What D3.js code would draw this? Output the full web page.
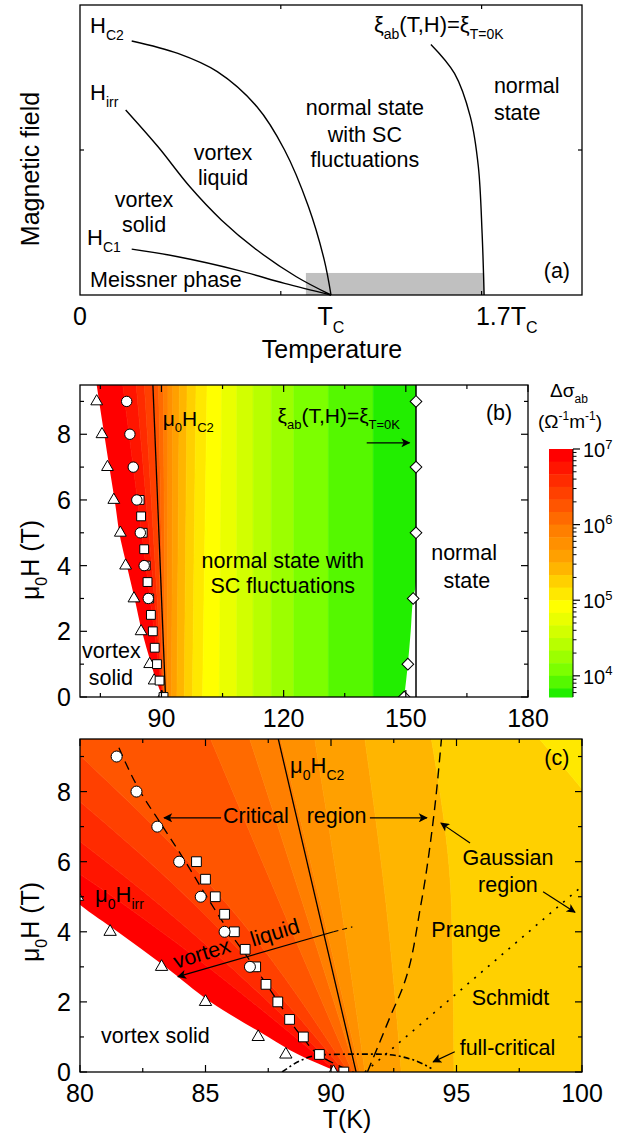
<!DOCTYPE html>
<html>
<head>
<meta charset="utf-8">
<script src="https://cdn.jsdelivr.net/npm/d3@7/dist/d3.min.js"></script>
<style>
  body { margin: 0; background: #fff; }
  svg text { font-family: "Liberation Sans", Arial, Helvetica, sans-serif; fill: #000; }
</style>
</head>
<body>
<svg id="chart" width="618" height="1140"></svg>
<script>
// ---------- values ----------

// (a) schematic: T in units of Tc, field in arbitrary units
var hc2SchemT = [0.206, 0.390, 0.547, 0.705, 0.815, 0.910, 0.973, 1.0];
var hc2SchemH = [8.76, 8.33, 7.70, 6.49, 5.00, 3.05, 1.21, 0];
var hirrSchemT = [0.182, 0.311, 0.437, 0.563, 0.705, 0.862, 1.0];
var hirrSchemH = [6.38, 5.11, 3.74, 2.59, 1.55, 0.63, 0];
var hc1SchemT = [0.206, 0.390, 0.626, 0.815, 1.0];
var hc1SchemH = [1.58, 1.32, 0.86, 0.40, 0];
var xiSchemT = [1.398, 1.492, 1.555, 1.587, 1.602, 1.610];
var xiSchemH = [8.64, 7.64, 6.15, 4.43, 2.13, 0];
var fluctT = [0.90, 1.61];
var fluctH = 0.76;
var schemTicks = [0, 1, 1.7];
var schemTickLabels = [[['0']], [['T'], ['C', 'sub']], [['1.7T'], ['C', 'sub']]];

// (b),(c) measured points: T (K), mu0H (T)
var triT = [90.1, 88.2, 87.1, 85.0, 83.25, 81.2, 79.9, 78.3, 76.75, 75.4, 74.1];
var triH = [0, 0.5, 1, 2, 3, 4, 5, 6, 7, 8, 9];
var circT = [81.46, 82.25, 83.08, 83.95, 84.81, 85.76, 86.77];
var circH = [9, 8, 7, 6, 5, 4, 3];
var sqT = [84.64, 85.0, 85.39, 85.76, 86.15, 86.58, 87.0, 87.41, 87.88, 88.35, 88.9, 89.54, 90.51];
var sqH = [6, 5.5, 5, 4.5, 4, 3.5, 3, 2.5, 2, 1.5, 1, 0.5, 0];
var diaT = [152.5, 152.5, 152.5, 151.8, 150.5, 149.6];
var diaH = [9, 7, 5, 3, 1, 0];

// lines
var hc2T = [87.9, 91.0];
var hc2H = [9.5, 0];
var xiLineT = [152.5, 152.5];
var xiLineH = [0, 9.5];
var edgeT = [90.3, 88.7, 87.5, 85.2, 83.4, 81.5, 80.0, 78.5, 77.2, 75.95, 74.7, 74.1];
var edgeH = [0, 0.5, 1, 2, 3, 4, 4.77, 6, 7, 8, 9, 9.5];
var greenEdgeT = [149.6, 150.5, 151.2, 151.8, 152.5, 152.5];
var greenEdgeH = [0, 1, 2, 3, 3.5, 9.5];
var critT = [81.55, 82.4, 83.3, 84.2, 85.05, 85.95, 86.95, 87.9, 88.85, 89.7, 90.9];
var critH = [9.25, 8, 7, 6, 5, 4, 3, 2, 1, 0.4, 0];
var gaussT = [91.45, 91.97, 92.43, 92.82, 93.59, 94.06, 94.4];
var gaussH = [0, 0.9, 1.7, 2.34, 4.81, 7.1, 9.5];
var prangeT = [91.35, 100];
var prangeH = [0, 5.3];
var fullCritT = [88.05, 88.82, 89.61, 90.81, 91.87, 92.80, 93.60, 94.0];
var fullCritH = [0, 0.34, 0.49, 0.51, 0.51, 0.44, 0.25, 0.1];

// conductivity contours: log10(dSigma) levels and the T where each level crosses the knot fields
var bandKnotsB = [0, 9.5];
var levelsB = [6.833, 6.667, 6.5, 6.333, 6.167, 6.0, 5.833, 5.667, 5.5, 5.333, 5.167, 5.0, 4.833, 4.667, 4.5, 4.333, 4.167, 4.0, 3.833];
var levelT0B = [90.3, 90.35, 90.4, 90.45, 90.6, 90.9, 91.5, 92.5, 93.8, 95.6, 97.6, 100.1, 104.2, 108.5, 112.5, 117, 122.5, 131, 142];
var levelT1B = [80.5, 83.8, 85.8, 88.0, 89.3, 90.5, 91.6, 92.8, 94.4, 96.3, 98.5, 101.2, 104.8, 108.5, 112.5, 117, 122.5, 131, 142];

var bandKnotsC = [0, 4.75, 9.5];
var levelsC = [6.833, 6.667, 6.5, 6.333, 6.167, 6.0, 5.833, 5.667, 5.5, 5.333, 5.167];
var levelT0C = [90.25, 90.4, 90.55, 90.7, 90.85, 91.0, 91.15, 91.35, 92.8, 94.9, 103];
var levelTmC = [81.8, 83.2, 84.6, 85.9, 88.0, 88.9, 89.6, 90.4, 92.2, 94.8, 102.5];
var levelT1C = [71.5, 74.5, 77.0, 79.3, 85.2, 86.76, 88.0, 89.35, 91.35, 94.0, 98.3];

// colour scale
var cbBands = [7, 6.833, 6.667, 6.5, 6.333, 6.167, 6.0, 5.833, 5.667, 5.5, 5.333, 5.167, 5.0, 4.833, 4.667, 4.5, 4.333, 4.167, 4.0, 3.833, 3.72];
var bandColors = ['#ff0000', '#ff1500', '#ff2b00', '#ff4000', '#ff5500', '#ff6a00', '#ff7f00', '#ff9000', '#ffa000', '#ffb500',
                  '#ffd000', '#ffe800', '#ffff00', '#eaff00', '#d2ff00', '#b8ff00', '#9cff00', '#7cff00', '#55f800', '#22ee00'];
var cbExp = [4, 5, 6, 7];
var cbMinorMult = [2, 3, 4, 5, 6, 7, 8, 9];
var cbDecades = [3, 4, 5, 6];

var bTicksMaj = [90, 120, 150, 180];
var bTicksMin = [75, 105, 135, 165];
var cTicksMaj = [80, 85, 90, 95, 100];
var cTicksMin = [82.5, 87.5, 92.5, 97.5];
var hTicksMaj = [0, 2, 4, 6, 8];
var hTicksMin = [1, 3, 5, 7, 9];

// ---------- helpers ----------
var svg = d3.select('#chart');
var defs = svg.append('defs');
defs.append('marker').attr('id', 'head')
  .attr('viewBox', '0 0 10 10').attr('refX', 9).attr('refY', 5)
  .attr('markerWidth', 11).attr('markerHeight', 9)
  .attr('markerUnits', 'userSpaceOnUse').attr('orient', 'auto')
  .append('path').attr('d', 'M0,0L10,5L0,10L2.5,5Z').attr('fill', '#000');

function pts(ts, hs) {
  return ts.map(function(t, i) { return {t: t, h: hs[i]}; });
}

// text with sub/superscripts: parts = [[str], [str,'sub'], [str,'sup']]
function rich(sel, parts, size) {
  var small = Math.round(size * 0.64);
  var shift = 0;
  parts.forEach(function(p) {
    var want = p[1] === 'sub' ? size * 0.3 : (p[1] === 'sup' ? -size * 0.42 : 0);
    sel.append('tspan')
      .attr('font-size', p[1] ? small : size)
      .attr('dy', want - shift)
      .text(p[0]);
    shift = want;
  });
  return sel;
}

function addLabels(g, x, y, list, size) {
  list.forEach(function(l) {
    var t = g.append('text')
      .attr('x', x(l.t)).attr('y', y(l.h))
      .attr('text-anchor', l.a || 'middle');
    rich(t, l.p, size);
  });
}

function drawTicks(g, x, y, xMaj, xMin, yMaj, yMin) {
  var left = x.range()[0], right = x.range()[1], bottom = y.range()[0], top = y.range()[1];
  var tk = g.append('g').attr('stroke', '#000').attr('stroke-width', 1.2);
  [[xMaj, 7], [xMin, 4]].forEach(function(p) {
    tk.selectAll(null).data(p[0]).join('line')
      .attr('x1', function(d) { return x(d); }).attr('x2', function(d) { return x(d); })
      .attr('y1', bottom).attr('y2', bottom - p[1]);
    tk.selectAll(null).data(p[0]).join('line')
      .attr('x1', function(d) { return x(d); }).attr('x2', function(d) { return x(d); })
      .attr('y1', top).attr('y2', top + p[1]);
  });
  [[yMaj, 7], [yMin, 4]].forEach(function(p) {
    tk.selectAll(null).data(p[0]).join('line')
      .attr('y1', function(d) { return y(d); }).attr('y2', function(d) { return y(d); })
      .attr('x1', left).attr('x2', left + p[1]);
    tk.selectAll(null).data(p[0]).join('line')
      .attr('y1', function(d) { return y(d); }).attr('y2', function(d) { return y(d); })
      .attr('x1', right).attr('x2', right - p[1]);
  });
  g.append('rect')
    .attr('x', left).attr('y', top)
    .attr('width', right - left).attr('height', bottom - top)
    .attr('fill', 'none').attr('stroke', '#000').attr('stroke-width', 1.3);
}

function tickLabels(g, x, y, xVals, yVals) {
  var left = x.range()[0], bottom = y.range()[0];
  g.selectAll(null).data(xVals).join('text')
    .attr('x', function(d) { return x(d); }).attr('y', bottom + 30)
    .attr('text-anchor', 'middle').attr('font-size', 25)
    .text(function(d) { return d; });
  g.selectAll(null).data(yVals).join('text')
    .attr('x', left - 9).attr('y', function(d) { return y(d); })
    .attr('dy', '0.36em')
    .attr('text-anchor', 'end').attr('font-size', 25)
    .text(function(d) { return d; });
}

function bandColor(lo, hi) {
  var j = Math.floor((7 - (lo + hi) / 2) * 6);
  return bandColors[Math.max(0, Math.min(bandColors.length - 1, j))];
}

// filled contour bands between successive level lines
function drawBands(g, x, y, knots, levels, rows) {
  var area = d3.area().curve(d3.curveMonotoneY)
    .y(function(d) { return y(d.h); })
    .x0(function(d) { return x(d.a); })
    .x1(function(d) { return x(d.b); });
  var far = knots.map(function() { return 0; });
  for (var k = 0; k <= levels.length; k++) {
    var l = k === 0 ? far.map(function() { return 40; }) : rows[k - 1];
    var r = k === levels.length ? far.map(function() { return 250; }) : rows[k];
    var hi = k === 0 ? 7 : levels[k - 1];
    var lo = k === levels.length ? levels[k - 1] - 1 / 6 : levels[k];
    var c = bandColor(lo, hi);
    g.append('path')
      .attr('d', area(knots.map(function(h, i) { return {h: h, a: l[i], b: r[i]}; })))
      .attr('fill', c).attr('stroke', c).attr('stroke-width', 0.6);
  }
}

function whiteArea(g, x, y, ts, hs, fromLeft) {
  var area = d3.area().curve(d3.curveMonotoneY)
    .y(function(d) { return y(d.h); })
    .x0(function(d) { return fromLeft ? x(40) : x(d.t); })
    .x1(function(d) { return fromLeft ? x(d.t) : x(250); });
  g.append('path').attr('d', area(pts(ts, hs))).attr('fill', '#fff');
}

function drawMarks(g, x, y, ts, hs, type, size, rot) {
  var sym = d3.symbol().type(type).size(size);
  g.selectAll(null).data(ts).join('path')
    .attr('d', sym)
    .attr('transform', function(d, i) {
      return 'translate(' + x(d) + ',' + y(hs[i]) + ')' + (rot ? ' rotate(' + rot + ')' : '');
    })
    .attr('fill', '#fff').attr('stroke', '#000').attr('stroke-width', 1);
}

function drawLine(g, x, y, ts, hs, dash, width, curve) {
  var line = d3.line().curve(curve || d3.curveLinear)
    .x(function(d) { return x(d.t); }).y(function(d) { return y(d.h); });
  return g.append('path').attr('d', line(pts(ts, hs)))
    .attr('fill', 'none').attr('stroke', '#000')
    .attr('stroke-width', width || 1.3)
    .attr('stroke-dasharray', dash || null);
}

function drawArrow(g, x, y, a) {
  g.append('line')
    .attr('x1', x(a.t0)).attr('y1', y(a.h0)).attr('x2', x(a.t1)).attr('y2', y(a.h1))
    .attr('stroke', '#000').attr('stroke-width', 1.2)
    .attr('marker-end', 'url(#head)');
}

function clipRect(id, x, y) {
  defs.append('clipPath').attr('id', id).append('rect')
    .attr('x', x.range()[0]).attr('y', y.range()[1])
    .attr('width', x.range()[1] - x.range()[0]).attr('height', y.range()[0] - y.range()[1]);
}

// ---------- panel (a) ----------
var xa = d3.scaleLinear().domain([0, 2]).range([80, 582]);
var ya = d3.scaleLinear().domain([0, 10]).range([295, 5]);
var ga = svg.append('g');

ga.append('rect')
  .attr('x', xa(fluctT[0])).attr('y', ya(fluctH))
  .attr('width', xa(fluctT[1]) - xa(fluctT[0])).attr('height', ya(0) - ya(fluctH))
  .attr('fill', '#c0c0c0');

[[hc2SchemT, hc2SchemH], [hirrSchemT, hirrSchemH], [hc1SchemT, hc1SchemH], [xiSchemT, xiSchemH]]
  .forEach(function(c) { drawLine(ga, xa, ya, c[0], c[1], null, 1.4, d3.curveCatmullRom); });

drawTicks(ga, xa, ya, [], [0.8, 1.6], [], [5]);

schemTicks.forEach(function(v, i) {
  var t = ga.append('text').attr('x', xa(v)).attr('y', 325).attr('text-anchor', 'middle');
  rich(t, schemTickLabels[i], 25);
});
ga.append('text').attr('x', 332).attr('y', 358).attr('text-anchor', 'middle')
  .attr('font-size', 25).text('Temperature');
ga.append('text').attr('transform', 'translate(39,169) rotate(-90)')
  .attr('text-anchor', 'middle').attr('font-size', 25).text('Magnetic field');

addLabels(ga, xa, ya, [
  {p: [['H'], ['C2', 'sub']], t: 0.04, h: 9.03, a: 'start'},
  {p: [['H'], ['irr', 'sub']], t: 0.04, h: 6.72, a: 'start'},
  {p: [['H'], ['C1', 'sub']], t: 0.028, h: 1.72, a: 'start'},
  {p: [['ξ'], ['ab', 'sub'], ['(T,H)='], ['ξ'], ['T=0K', 'sub']], t: 1.171, h: 9.07, a: 'start'}
], 22);
addLabels(ga, xa, ya, [
  {p: [['vortex']], t: 0.255, h: 3.03},
  {p: [['solid']], t: 0.255, h: 2.17},
  {p: [['vortex']], t: 0.570, h: 4.66},
  {p: [['liquid']], t: 0.570, h: 3.79},
  {p: [['normal state']], t: 1.135, h: 6.21},
  {p: [['with SC']], t: 1.135, h: 5.28},
  {p: [['fluctuations']], t: 1.135, h: 4.41},
  {p: [['normal']], t: 1.649, h: 6.97, a: 'start'},
  {p: [['state']], t: 1.649, h: 6.03, a: 'start'},
  {p: [['Meissner phase']], t: 0.04, h: 0.28, a: 'start'},
  {p: [['(a)']], t: 1.90, h: 0.59}
], 21.5);

// ---------- panel (b) ----------
var xb = d3.scaleLinear().domain([70, 180]).range([80, 528]);
var yb = d3.scaleLinear().domain([0, 9.5]).range([697, 385]);
clipRect('clipB', xb, yb);
var gb = svg.append('g');
var gbIn = gb.append('g').attr('clip-path', 'url(#clipB)');

drawBands(gbIn, xb, yb, bandKnotsB, levelsB,
  levelsB.map(function(l, i) { return [levelT0B[i], levelT1B[i]]; }));
whiteArea(gbIn, xb, yb, edgeT, edgeH, true);
whiteArea(gbIn, xb, yb, greenEdgeT, greenEdgeH, false);

drawLine(gbIn, xb, yb, hc2T, hc2H, null, 1.3);
drawLine(gbIn, xb, yb, xiLineT, xiLineH, null, 1.5);
drawArrow(gbIn, xb, yb, {t0: 140.4, h0: 7.74, t1: 150.9, h1: 7.74});

drawMarks(gbIn, xb, yb, triT, triH, d3.symbolTriangle, 60);
drawMarks(gbIn, xb, yb, sqT, sqH, d3.symbolSquare, 78);
drawMarks(gbIn, xb, yb, circT, circH, d3.symbolCircle, 85);
drawMarks(gbIn, xb, yb, diaT, diaH, d3.symbolSquare, 68, 45);

addLabels(gb, xb, yb, [
  {p: [['μ'], ['0', 'sub'], ['H'], ['C2', 'sub']], t: 90.3, h: 8.25, a: 'start'},
  {p: [['ξ'], ['ab', 'sub'], ['(T,H)='], ['ξ'], ['T=0K', 'sub']], t: 118.5, h: 8.34, a: 'start'}
], 21);
addLabels(gb, xb, yb, [
  {p: [['normal state with']], t: 119.8, h: 3.93},
  {p: [['SC fluctuations']], t: 119.8, h: 3.17},
  {p: [['normal']], t: 164.3, h: 4.17},
  {p: [['state']], t: 165, h: 3.32},
  {p: [['vortex']], t: 77.7, h: 1.19},
  {p: [['solid']], t: 77.6, h: 0.37},
  {p: [['(b)']], t: 172.9, h: 8.43}
], 21.5);

drawTicks(gb, xb, yb, bTicksMaj, bTicksMin, hTicksMaj, hTicksMin);
tickLabels(gb, xb, yb, bTicksMaj, hTicksMaj);
rich(gb.append('text').attr('transform', 'translate(39,560) rotate(-90)').attr('text-anchor', 'middle'),
  [['μ'], ['0', 'sub'], ['H (T)']], 25);

// colour bar
var cb = d3.scaleLinear().domain([3.72, 7]).range([697, 449]);
var cbX0 = 549, cbX1 = 573;
var gcb = svg.append('g');
for (var i = 0; i < cbBands.length - 1; i++) {
  gcb.append('rect')
    .attr('x', cbX0).attr('y', cb(cbBands[i]))
    .attr('width', cbX1 - cbX0).attr('height', cb(cbBands[i + 1]) - cb(cbBands[i]) + 0.5)
    .attr('fill', bandColor(cbBands[i + 1], cbBands[i]));
}
gcb.append('line').attr('x1', cbX1).attr('x2', cbX1).attr('y1', cb(7)).attr('y2', cb(3.72))
  .attr('stroke', '#000').attr('stroke-width', 1);
var cbMinor = [];
cbDecades.forEach(function(e) {
  cbMinorMult.forEach(function(m) {
    var v = e + Math.log10(m);
    if (v > 3.72 && v < 7) cbMinor.push(v);
  });
});
gcb.selectAll(null).data(cbMinor).join('line')
  .attr('x1', cbX1).attr('x2', cbX1 + 3.5)
  .attr('y1', function(d) { return cb(d); }).attr('y2', function(d) { return cb(d); })
  .attr('stroke', '#000').attr('stroke-width', 1);
gcb.selectAll(null).data(cbExp).join('line')
  .attr('x1', cbX1).attr('x2', cbX1 + 7)
  .attr('y1', function(d) { return cb(d); }).attr('y2', function(d) { return cb(d); })
  .attr('stroke', '#000').attr('stroke-width', 1.2);
cbExp.forEach(function(e) {
  var t = gcb.append('text').attr('x', 583).attr('y', cb(e) + 8);
  rich(t, [['10'], [String(e), 'sup']], 20);
});
rich(gcb.append('text').attr('x', 569).attr('y', 397).attr('text-anchor', 'middle'),
  [['Δσ'], ['ab', 'sub']], 19);
rich(gcb.append('text').attr('x', 570).attr('y', 428).attr('text-anchor', 'middle'),
  [['(Ω'], ['-1', 'sup'], ['m'], ['-1', 'sup'], [')']], 19);

// ---------- panel (c) ----------
var xc = d3.scaleLinear().domain([80, 100]).range([80, 582]);
var yc = d3.scaleLinear().domain([0, 9.5]).range([1072, 739]);
clipRect('clipC', xc, yc);
var gc = svg.append('g');
var gcIn = gc.append('g').attr('clip-path', 'url(#clipC)');

drawBands(gcIn, xc, yc, bandKnotsC, levelsC,
  levelsC.map(function(l, i) { return [levelT0C[i], levelTmC[i], levelT1C[i]]; }));
whiteArea(gcIn, xc, yc, edgeT, edgeH, true);

drawLine(gcIn, xc, yc, hc2T, hc2H, null, 1.3);
drawLine(gcIn, xc, yc, critT, critH, '9,6', 1.3, d3.curveMonotoneY);
drawLine(gcIn, xc, yc, gaussT, gaussH, '10,6', 1.4, d3.curveMonotoneY);
drawLine(gcIn, xc, yc, prangeT, prangeH, '2,7', 1.6);
drawLine(gcIn, xc, yc, fullCritT, fullCritH, '6,3,2,3', 1.6, d3.curveMonotoneX);
drawLine(gcIn, xc, yc, [90.1, 90.85], [4.0, 4.14], '5,4', 1.1);

[
  {t0: 85.62, h0: 7.25, t1: 83.35, h1: 7.25},
  {t0: 91.55, h0: 7.25, t1: 93.82, h1: 7.25},
  {t0: 95.54, h0: 6.53, t1: 94.38, h1: 7.10},
  {t0: 98.45, h0: 5.14, t1: 99.72, h1: 4.56},
  {t0: 94.93, h0: 0.58, t1: 94.07, h1: 0.29},
  {t0: 90.1, h0: 4.0, t1: 83.9, h1: 2.72}
].forEach(function(a) { drawArrow(gcIn, xc, yc, a); });

drawMarks(gcIn, xc, yc, triT, triH, d3.symbolTriangle, 66);
drawMarks(gcIn, xc, yc, sqT, sqH, d3.symbolSquare, 95);
drawMarks(gcIn, xc, yc, circT, circH, d3.symbolCircle, 95);

addLabels(gc, xc, yc, [
  {p: [['μ'], ['0', 'sub'], ['H'], ['C2', 'sub']], t: 88.37, h: 8.53, a: 'start'},
  {p: [['μ'], ['0', 'sub'], ['H'], ['irr', 'sub']], t: 80.6, h: 4.85, a: 'start'}
], 22);
addLabels(gc, xc, yc, [
  {p: [['Critical']], t: 87.01, h: 7.10},
  {p: [['region']], t: 90.22, h: 7.10},
  {p: [['Gaussian']], t: 97.05, h: 5.91},
  {p: [['region']], t: 97.05, h: 5.14},
  {p: [['Prange']], t: 95.38, h: 3.85},
  {p: [['Schmidt']], t: 97.15, h: 1.91},
  {p: [['full-critical']], t: 97.03, h: 0.49},
  {p: [['vortex solid']], t: 83.0, h: 0.83},
  {p: [['(c)']], t: 99.0, h: 8.76}
], 21.5);
[{s: 'vortex', t: 83.82, h: 2.94}, {s: 'liquid', t: 86.89, h: 3.57}].forEach(function(l) {
  gc.append('text')
    .attr('transform', 'translate(' + xc(l.t) + ',' + yc(l.h) + ') rotate(-17)')
    .attr('font-size', 21.5).text(l.s);
});

drawTicks(gc, xc, yc, cTicksMaj, cTicksMin, hTicksMaj, hTicksMin);
tickLabels(gc, xc, yc, cTicksMaj, hTicksMaj);
gc.append('text').attr('x', 347).attr('y', 1128).attr('text-anchor', 'middle')
  .attr('font-size', 25).text('T(K)');
rich(gc.append('text').attr('transform', 'translate(39,922) rotate(-90)').attr('text-anchor', 'middle'),
  [['μ'], ['0', 'sub'], ['H (T)']], 25);
</script>
</body>
</html>
